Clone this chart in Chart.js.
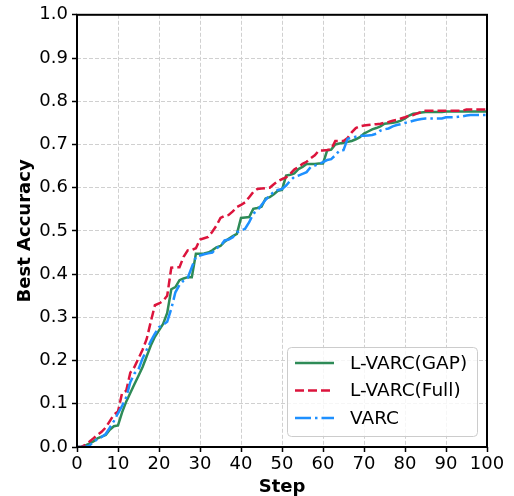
<!DOCTYPE html>
<html>
<head>
<meta charset="utf-8">
<script src="https://cdn.jsdelivr.net/npm/chart.js@4/dist/chart.umd.min.js"></script>
<style>
  html, body { margin: 0; padding: 0; background: #fff; }
  #wrap { width: 514px; height: 496px; }
</style>
</head>
<body>
<div id="wrap"><canvas id="chart" width="514" height="496"></canvas></div>
<script>
// steps 0..100
var steps = Array.from({ length: 101 }, function (_, i) { return i; });

// L-VARC(GAP)
var gapValues = [
  0, 0, 0.003, 0.008, 0.013, 0.02, 0.024, 0.028, 0.04, 0.048,
  0.05, 0.08, 0.105, 0.125, 0.145, 0.165, 0.185, 0.21, 0.235, 0.255,
  0.27, 0.285, 0.31, 0.365, 0.37, 0.386, 0.39, 0.393, 0.393, 0.447,
  0.447, 0.448, 0.45, 0.455, 0.462, 0.465, 0.475, 0.482, 0.488, 0.493,
  0.53, 0.531, 0.532, 0.551, 0.553, 0.556, 0.575, 0.578, 0.585, 0.593,
  0.595, 0.628, 0.63, 0.633, 0.643, 0.648, 0.655, 0.655, 0.655, 0.656,
  0.656, 0.686, 0.688, 0.7, 0.702, 0.704, 0.706, 0.708, 0.712, 0.717,
  0.725, 0.73, 0.735, 0.738, 0.742, 0.748, 0.749, 0.75, 0.752, 0.755,
  0.76, 0.767, 0.771, 0.772, 0.774, 0.775, 0.775, 0.775, 0.775, 0.775,
  0.776, 0.776, 0.776, 0.776, 0.776, 0.776, 0.776, 0.776, 0.776, 0.776,
  0.776
];

// L-VARC(Full)
var fullValues = [
  0, 0, 0.005, 0.012, 0.02, 0.028, 0.035, 0.045, 0.06, 0.075,
  0.082, 0.125, 0.13, 0.172, 0.185, 0.205, 0.225, 0.25, 0.29, 0.328,
  0.332, 0.338, 0.35, 0.415, 0.416, 0.416, 0.44, 0.455, 0.456, 0.46,
  0.48, 0.483, 0.486, 0.498, 0.512, 0.53, 0.535, 0.537, 0.545, 0.555,
  0.56, 0.566, 0.578, 0.59, 0.597, 0.598, 0.599, 0.6, 0.608, 0.615,
  0.62, 0.624, 0.632, 0.642, 0.648, 0.655, 0.66, 0.668, 0.675, 0.686,
  0.686, 0.687, 0.689, 0.708, 0.708, 0.708, 0.715, 0.728, 0.738, 0.742,
  0.744, 0.745, 0.746, 0.747, 0.748, 0.75, 0.752, 0.755, 0.757, 0.76,
  0.763, 0.767, 0.768, 0.772, 0.775, 0.778, 0.778, 0.778, 0.778, 0.778,
  0.778, 0.778, 0.778, 0.778, 0.778, 0.781, 0.781, 0.781, 0.781, 0.781,
  0.781
];

// VARC
var varcValues = [
  0, 0, 0, 0.003, 0.012, 0.018, 0.023, 0.03, 0.045, 0.06,
  0.078, 0.095, 0.115, 0.15, 0.17, 0.18, 0.205, 0.225, 0.245, 0.262,
  0.277, 0.283, 0.29, 0.32, 0.358, 0.375, 0.385, 0.391, 0.416, 0.44,
  0.443, 0.446, 0.448, 0.45, 0.46, 0.465, 0.478, 0.48, 0.485, 0.497,
  0.5, 0.505, 0.52, 0.54, 0.547, 0.56, 0.572, 0.582, 0.59, 0.595,
  0.597, 0.605, 0.616, 0.625, 0.628, 0.632, 0.636, 0.648, 0.651, 0.655,
  0.659, 0.664, 0.666, 0.675, 0.686, 0.687, 0.713, 0.715, 0.718, 0.72,
  0.72, 0.721, 0.722, 0.725, 0.732, 0.735, 0.737, 0.742, 0.745, 0.747,
  0.75, 0.752, 0.755, 0.757, 0.759, 0.76, 0.76, 0.76, 0.76, 0.76,
  0.763, 0.763, 0.763, 0.764, 0.765, 0.767, 0.768, 0.768, 0.768, 0.768,
  0.768
];

var seriesNames = ["L-VARC(GAP)", "L-VARC(Full)", "VARC"];
var xTicks = [0, 10, 20, 30, 40, 50, 60, 70, 80, 90, 100];
var yTicks = [0.0, 0.1, 0.2, 0.3, 0.4, 0.5, 0.6, 0.7, 0.8, 0.9, 1.0];

var FONT = "'DejaVu Sans', sans-serif";

function toPoints(vals) {
  return steps.map(function (s, i) { return { x: s, y: vals[i] }; });
}

var datasets = [
  { label: seriesNames[0], data: toPoints(gapValues), borderColor: "#2e8b57", borderDash: [], order: 3 },
  { label: seriesNames[1], data: toPoints(fullValues), borderColor: "#dc143c", borderDash: [9, 4], order: 2 },
  { label: seriesNames[2], data: toPoints(varcValues), borderColor: "#1e90ff", borderDash: [16, 4, 2.5, 4], order: 1 }
];
datasets.forEach(function (d) {
  d.borderWidth = 2.5;
  d.pointRadius = 0;
  d.tension = 0;
  d.fill = false;
});

// frame round the plot + legend box in the lower right
var framePlugin = {
  id: "frame",
  afterDraw: function (chart) {
    var ctx = chart.ctx, a = chart.chartArea;
    ctx.save();
    ctx.strokeStyle = "#000";
    ctx.lineWidth = 2;
    ctx.setLineDash([]);
    ctx.strokeRect(a.left, a.top, a.right - a.left, a.bottom - a.top);

    // legend
    var bx = 287.5, by = 347.5, bw = 190, bh = 89, r = 4;
    ctx.beginPath();
    ctx.moveTo(bx + r, by);
    ctx.arcTo(bx + bw, by, bx + bw, by + bh, r);
    ctx.arcTo(bx + bw, by + bh, bx, by + bh, r);
    ctx.arcTo(bx, by + bh, bx, by, r);
    ctx.arcTo(bx, by, bx + bw, by, r);
    ctx.closePath();
    ctx.fillStyle = "rgba(255,255,255,0.8)";
    ctx.fill();
    ctx.strokeStyle = "#cccccc";
    ctx.lineWidth = 1;
    ctx.stroke();

    ctx.font = "18.5px " + FONT;
    ctx.textBaseline = "middle";
    ctx.fillStyle = "#000";
    datasets.forEach(function (d, i) {
      var y = 363 + i * 27.5;
      ctx.beginPath();
      ctx.setLineDash(d.borderDash);
      ctx.strokeStyle = d.borderColor;
      ctx.lineWidth = 2.5;
      ctx.moveTo(295, y);
      ctx.lineTo(334, y);
      ctx.stroke();
      ctx.setLineDash([]);
      ctx.fillText(d.label, 350, y + 1);
    });
    ctx.restore();
  }
};

new Chart(document.getElementById("chart"), {
  type: "line",
  data: { datasets: datasets },
  plugins: [framePlugin],
  options: {
    responsive: false,
    animation: false,
    layout: { padding: { left: 0, right: 27, top: 14, bottom: 0 } },
    plugins: { legend: { display: false }, tooltip: { enabled: false } },
    scales: {
      x: {
        type: "linear",
        min: 0, max: 100,
        afterFit: function (s) { s.height = 49; },
        afterBuildTicks: function (s) { s.ticks = xTicks.map(function (v) { return { value: v }; }); },
        ticks: { color: "#000", font: { family: FONT, size: 18 }, padding: 2, maxRotation: 0,
          callback: function (v) { return String(v); } },
        grid: { color: "#d0d0d0", lineWidth: 1, tickColor: "#000", tickWidth: 1.5, tickLength: 5, tickBorderDash: [] },
        border: { display: false, dash: [4, 2] },
        title: { display: true, text: "Step", color: "#000", font: { family: FONT, size: 18, weight: "bold", lineHeight: 1 }, padding: { top: 0, bottom: 0 } }
      },
      y: {
        min: 0, max: 1,
        afterFit: function (s) { s.width = 77; },
        afterBuildTicks: function (s) { s.ticks = yTicks.map(function (v) { return { value: v }; }); },
        ticks: { color: "#000", font: { family: FONT, size: 18 }, padding: 4,
          callback: function (v) { return Number(v).toFixed(1); } },
        grid: { color: "#d0d0d0", lineWidth: 1, tickColor: "#000", tickWidth: 1.5, tickLength: 5, tickBorderDash: [] },
        border: { display: false, dash: [4, 2] },
        title: { display: true, text: "Best Accuracy", color: "#000", font: { family: FONT, size: 18, weight: "bold", lineHeight: 1 }, padding: { top: 16, bottom: 0 } }
      }
    }
  }
});
</script>
</body>
</html>
